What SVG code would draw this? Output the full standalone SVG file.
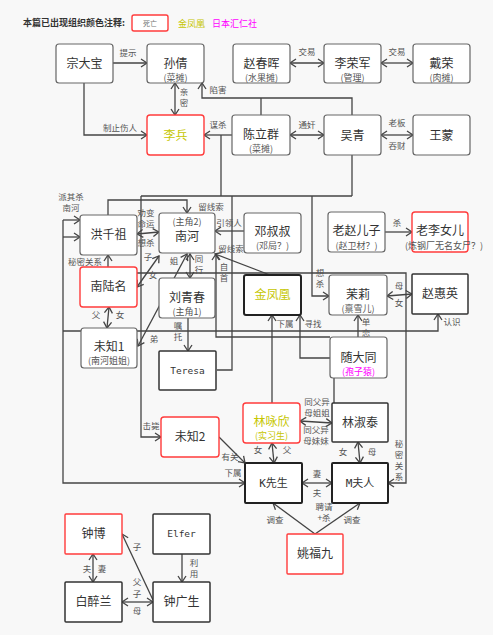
<svg xmlns="http://www.w3.org/2000/svg" width="493" height="635" viewBox="0 0 493 635">
<defs>
<marker id="a" viewBox="-1 -1 9 10" markerWidth="9" markerHeight="10" refX="6" refY="4" orient="auto-start-reverse" markerUnits="userSpaceOnUse">
<path d="M0,0 L6,4 L0,8" fill="none" stroke="#444" stroke-width="1.3"/>
</marker>
<style>
.n{fill:#fff;stroke:#666;stroke-width:1.2}
.r{fill:#fff;stroke:#ff3b3b;stroke-width:1.4}
.d{fill:#fff;stroke:#333;stroke-width:1.5}
.k{fill:#fff;stroke:#222;stroke-width:2}
.t{font-family:"Noto Sans CJK SC",sans-serif;font-size:12px;fill:#333;text-anchor:middle}
.m{font-family:"DejaVu Sans Mono","Noto Sans CJK SC",monospace;font-size:9.5px;fill:#333;text-anchor:middle}
.s{font-family:"Noto Sans CJK SC",sans-serif;font-size:9px;fill:#555;text-anchor:middle}
.l{font-family:"Noto Sans CJK SC",sans-serif;font-size:8.5px;fill:#555;text-anchor:middle}
.y{fill:#c6c600}
.p{fill:#ff00ff}
.e{fill:none;stroke:#444;stroke-width:1.3}
</style>
</defs>
<rect width="493" height="635" fill="#f8f8f8"/>
<g id="legend">
<text x="23" y="26" style="font-family:'Noto Sans CJK SC',sans-serif;font-size:9px;font-weight:bold;fill:#333">本篇已出现组织颜色注释:</text>
<rect x="132" y="15" width="36" height="16" rx="2" class="r"/>
<text x="150" y="26" style="font-family:'Noto Sans CJK SC',sans-serif;font-size:7px;fill:#777;text-anchor:middle">死亡</text>
<text x="178" y="27" class="y" style="font-family:'Noto Sans CJK SC',sans-serif;font-size:9px">金凤凰</text>
<text x="212" y="27" class="p" style="font-family:'Noto Sans CJK SC',sans-serif;font-size:9px">日本汇仁社</text>
</g>
<g id="connectors">
<path class="e" d="M113 63H147" marker-end="url(#a)"/>
<path class="e" d="M84 83V135H147" marker-end="url(#a)"/>
<path class="e" d="M175 83V115" marker-start="url(#a)" marker-end="url(#a)"/>
<path class="e" d="M290 63H324" marker-start="url(#a)" marker-end="url(#a)"/>
<path class="e" d="M381 63H413" marker-start="url(#a)" marker-end="url(#a)"/>
<path class="e" d="M352 115V98H202V83" marker-end="url(#a)"/>
<path class="e" d="M261 115V98"/>
<path class="e" d="M232 135H204" marker-end="url(#a)"/>
<path class="e" d="M221 135V196"/>
<path class="e" d="M290 135H324" marker-start="url(#a)" marker-end="url(#a)"/>
<path class="e" d="M381 135H413" marker-start="url(#a)" marker-end="url(#a)"/>
<path class="e" d="M352 155V196"/>
<path class="e" d="M141 196H352"/>
<path class="e" d="M108 215V200H187V213" marker-end="url(#a)"/>
<path class="e" d="M141 196V437H161" marker-end="url(#a)"/>
<path class="e" d="M312 196V296H329" marker-end="url(#a)"/>
<path class="e" d="M217 370H232V196"/>
<path class="e" d="M137 234L159 232" marker-start="url(#a)" marker-end="url(#a)"/>
<path class="e" d="M137 287L159 256" marker-start="url(#a)" marker-end="url(#a)"/>
<path class="e" d="M187 254L138 346" marker-start="url(#a)" marker-end="url(#a)"/>
<path class="e" d="M190 254V278" marker-start="url(#a)" marker-end="url(#a)"/>
<path class="e" d="M244 231H215" marker-end="url(#a)"/>
<path class="e" d="M270 275L215 254" marker-end="url(#a)"/>
<path class="e" d="M330 337H216V254" marker-end="url(#a)"/>
<path class="e" d="M108 255V273H406V483H388" marker-start="url(#a)" marker-end="url(#a)"/>
<path class="e" d="M385 232H412" marker-end="url(#a)"/>
<path class="e" d="M387 296L412 294" marker-start="url(#a)" marker-end="url(#a)"/>
<path class="e" d="M63 331H438V314" marker-end="url(#a)"/>
<path class="e" d="M63 220H80" marker-end="url(#a)"/>
<path class="e" d="M63 237H80" marker-end="url(#a)"/>
<path class="e" d="M63 220V483H245" marker-end="url(#a)"/>
<path class="e" d="M109 307L107 328" marker-start="url(#a)" marker-end="url(#a)"/>
<path class="e" d="M188 318V351" marker-end="url(#a)"/>
<path class="e" d="M272 403V315" marker-end="url(#a)"/>
<path class="e" d="M334 403V358H300V315" marker-end="url(#a)"/>
<path class="e" d="M358 337V315" marker-end="url(#a)"/>
<path class="e" d="M219 437L245 463" marker-end="url(#a)"/>
<path class="e" d="M272 443L274 463" marker-start="url(#a)" marker-end="url(#a)"/>
<path class="e" d="M300 421L332 423" marker-start="url(#a)" marker-end="url(#a)"/>
<path class="e" d="M358 442L360 463" marker-start="url(#a)" marker-end="url(#a)"/>
<path class="e" d="M302 483H332" marker-start="url(#a)" marker-end="url(#a)"/>
<path class="e" d="M315 534L273 503" marker-end="url(#a)"/>
<path class="e" d="M315 534L360 503" marker-end="url(#a)"/>
<path class="e" d="M93 554V582" marker-start="url(#a)" marker-end="url(#a)"/>
<path class="e" d="M182 554V582" marker-end="url(#a)"/>
<path class="e" d="M153 600L122 534" marker-end="url(#a)"/>
<path class="e" d="M122 602H153" marker-start="url(#a)" marker-end="url(#a)"/>
<g class="l">
<text x="128" y="56">提示</text>
<text x="120" y="131">制止伤人</text>
<text x="184" y="95">亲</text><text x="184" y="106">密</text>
<text x="218" y="93">陷害</text>
<text x="218" y="128">谋杀</text>
<text x="307" y="55">交易</text>
<text x="397" y="55">交易</text>
<text x="307" y="128">通奸</text>
<text x="397" y="126">老板</text>
<text x="397" y="149">吞财</text>
<text x="71" y="200">派其杀</text><text x="71" y="211">南河</text>
<text x="85" y="265">秘密关系</text>
<text x="146" y="216">劝变</text><text x="146" y="227">命运</text>
<text x="146" y="246">想杀</text>
<text x="148" y="260">子</text>
<text x="153" y="278">女</text>
<text x="174" y="264">姐</text>
<text x="199" y="262">同</text><text x="199" y="273">行</text>
<text x="211" y="210">留线索</text>
<text x="229" y="226">引领人</text>
<text x="231" y="252">留线索</text>
<text x="224" y="270">自</text><text x="224" y="281">首</text>
<text x="320" y="276">想</text><text x="320" y="287">杀</text>
<text x="397" y="226">杀</text>
<text x="399" y="289">母</text>
<text x="399" y="306">女</text>
<text x="452" y="325">认识</text>
<text x="96" y="318">父</text>
<text x="120" y="318">女</text>
<text x="154" y="342">弟</text>
<text x="178" y="329">嘱</text><text x="178" y="340">托</text>
<text x="285" y="327">下属</text>
<text x="313" y="327">寻找</text>
<text x="366" y="325">单</text><text x="366" y="336">恋</text>
<text x="151" y="429">击毙</text>
<text x="230" y="460">有关</text>
<text x="233" y="476">下属</text>
<text x="258" y="453">女</text>
<text x="287" y="453">父</text>
<text x="317" y="405">同父异</text><text x="317" y="416">母姐姐</text>
<text x="316" y="433">同父异</text><text x="316" y="444">母妹妹</text>
<text x="343" y="455">女</text>
<text x="372" y="455">母</text>
<text x="399" y="447">秘</text><text x="399" y="458">密</text><text x="399" y="469">关</text><text x="399" y="480">系</text>
<text x="317" y="477">妻</text>
<text x="317" y="496">夫</text>
<text x="324" y="510">聘请</text><text x="324" y="521">+杀</text>
<text x="352" y="523">调查</text>
<text x="275" y="523">调查</text>
<text x="87" y="572">夫</text>
<text x="102" y="572">妻</text>
<text x="137" y="550">子</text>
<text x="194" y="566">利</text><text x="194" y="577">用</text>
<text x="137" y="585">父</text>
<text x="137" y="597">子</text>
<text x="137" y="614">母</text>
</g>
</g>
<g id="n-zongdabao"><rect x="56" y="44" width="57" height="39" rx="3" class="n"/><text x="84.5" y="68" class="t">宗大宝</text></g>
<g id="n-sunqian"><rect x="147" y="44" width="57" height="39" rx="3" class="n"/><text x="175.5" y="68" class="t">孙倩</text><text x="175.5" y="81" class="s">(菜摊)</text></g>
<g id="n-zhaochunhui"><rect x="233" y="44" width="57" height="39" rx="3" class="n"/><text x="261.5" y="68" class="t">赵春晖</text><text x="261.5" y="81" class="s">(水果摊)</text></g>
<g id="n-lirongjun"><rect x="324" y="44" width="57" height="39" rx="3" class="n"/><text x="352.5" y="68" class="t">李荣军</text><text x="352.5" y="81" class="s">(管理)</text></g>
<g id="n-dairong"><rect x="413" y="44" width="57" height="39" rx="3" class="n"/><text x="441.5" y="68" class="t">戴荣</text><text x="441.5" y="81" class="s">(肉摊)</text></g>
<g id="n-libing"><rect x="147" y="115" width="57" height="40" rx="3" class="r"/><text x="175.5" y="139.5" class="t y">李兵</text></g>
<g id="n-chenliqun"><rect x="232" y="115" width="58" height="40" rx="3" class="n"/><text x="261" y="139" class="t">陈立群</text><text x="261" y="152" class="s">(菜摊)</text></g>
<g id="n-wuqing"><rect x="324" y="115" width="57" height="40" rx="3" class="n"/><text x="352.5" y="139.5" class="t">吴青</text></g>
<g id="n-wangmeng"><rect x="413" y="115" width="57" height="40" rx="3" class="n"/><text x="441.5" y="139.5" class="t">王蒙</text></g>
<g id="n-hongqianzu"><rect x="80" y="215" width="57" height="40" rx="3" class="n"/><text x="108.5" y="239" class="t">洪千祖</text></g>
<g id="n-nanhe"><rect x="159" y="213" width="56" height="40" rx="3" class="n"/><text x="187" y="225" class="s">(主角2)</text><text x="187" y="241" class="t">南河</text></g>
<g id="n-dengshushu"><rect x="244" y="213" width="57" height="40" rx="3" class="n"/><text x="272.5" y="236" class="t">邓叔叔</text><text x="272.5" y="249" class="s">(邓局？)</text></g>
<g id="n-laozhaoerzi"><rect x="328" y="212" width="57" height="40" rx="3" class="n"/><text x="356.5" y="235" class="t">老赵儿子</text><text x="356.5" y="249" class="s">(赵卫材？)</text></g>
<g id="n-laolinver"><rect x="412" y="212" width="56" height="40" rx="3" class="r"/><text x="440" y="235" class="t">老李女儿</text><text x="444" y="249" class="s">(炼钢厂无名女尸？)</text></g>
<g id="n-nanluming"><rect x="80" y="267" width="57" height="40" rx="3" class="r"/><text x="108.5" y="291" class="t">南陆名</text></g>
<g id="n-liuqingchun"><rect x="159" y="278" width="56" height="40" rx="3" class="n"/><text x="187" y="302" class="t">刘青春</text><text x="187" y="315" class="s">(主角1)</text></g>
<g id="n-jinfenghuang"><rect x="244" y="275" width="57" height="40" rx="2" class="k"/><text x="272.5" y="299" class="t y">金凤凰</text></g>
<g id="n-moli"><rect x="329" y="275" width="58" height="40" rx="3" class="n"/><text x="358" y="299" class="t">茉莉</text><text x="358" y="312" class="s">(禀雪儿)</text></g>
<g id="n-zhaohuiying"><rect x="412" y="274" width="56" height="40" rx="1" class="d"/><text x="440" y="298" class="t">赵惠英</text></g>
<g id="n-weizhi1"><rect x="81" y="328" width="56" height="40" rx="3" class="n"/><text x="109" y="351" class="t">未知1</text><text x="109" y="364" class="s">(南河姐姐)</text></g>
<g id="n-teresa"><rect x="159" y="351" width="57" height="39" rx="1" class="d"/><text x="187.5" y="374" class="m">Teresa</text></g>
<g id="n-suidatong"><rect x="330" y="337" width="57" height="41" rx="3" class="n"/><text x="358.5" y="362" class="t">随大同</text><text x="358.5" y="375" class="s p">(孢子猿)</text></g>
<g id="n-linyongxin"><rect x="243" y="403" width="57" height="40" rx="3" class="r"/><text x="271.5" y="426" class="t y">林咏欣</text><text x="271.5" y="439" class="s y">(实习生)</text></g>
<g id="n-weizhi2"><rect x="161" y="417" width="58" height="40" rx="3" class="r"/><text x="190" y="441" class="t">未知2</text></g>
<g id="n-linshutai"><rect x="332" y="403" width="56" height="39" rx="1" class="d"/><text x="360" y="427" class="t">林淑泰</text></g>
<g id="n-kxiansheng"><rect x="245" y="463" width="57" height="40" rx="1" class="k"/><text x="273.5" y="487" class="m" style="font-size:11px">K先生</text></g>
<g id="n-mfuren"><rect x="332" y="463" width="56" height="40" rx="1" class="k"/><text x="360" y="487" class="m" style="font-size:11px">M夫人</text></g>
<g id="n-yaofujiu"><rect x="287" y="534" width="56" height="40" rx="1" class="r"/><text x="315" y="558" class="t">姚福九</text></g>
<g id="n-zhongbo"><rect x="65" y="514" width="57" height="40" rx="1" class="r"/><text x="93.5" y="538" class="t">钟博</text></g>
<g id="n-elfer"><rect x="153" y="514" width="57" height="40" rx="1" class="d"/><text x="181.5" y="537" class="m">Elfer</text></g>
<g id="n-baizuilan"><rect x="65" y="582" width="57" height="40" rx="1" class="d"/><text x="93.5" y="606" class="t">白醉兰</text></g>
<g id="n-zhongguangsheng"><rect x="153" y="582" width="57" height="40" rx="1" class="d"/><text x="181.5" y="606" class="t">钟广生</text></g>
</svg>
